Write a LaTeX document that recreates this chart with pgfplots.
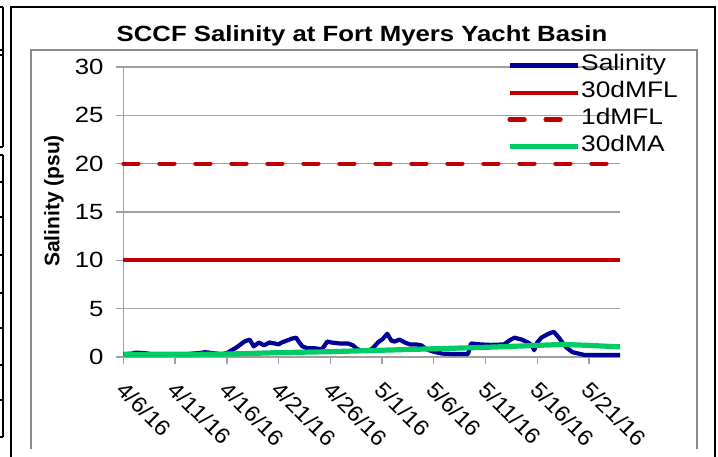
\documentclass[border=0pt]{standalone}
\usepackage{pgfplots}
\pgfplotsset{compat=1.18}
\usepackage{fontspec}
\setmainfont{Liberation Sans}[FakeStretch=1.17]
\newfontfamily\plainfont{Liberation Sans}
\newfontfamily\tickfont{Liberation Sans}[FakeStretch=1.08]
\definecolor{salblue}{RGB}{0,0,153}
\definecolor{mflred}{RGB}{192,0,0}
\definecolor{magreen}{RGB}{0,204,102}
\definecolor{gridgray}{RGB}{160,160,160}
\definecolor{framegray}{RGB}{140,140,140}
\begin{document}
\begin{tikzpicture}[x=1bp,y=1bp]
\useasboundingbox (0,0) rectangle (718,457);
% table lines at far left
\draw[black,line width=1.3bp] (3,450) -- (3,310);
\draw[black,line width=1.3bp] (3,302) -- (3,20);
\foreach \yy in {450,407,402,310,302,275,240,202,164,129,92,57,20}{
  \draw[black,line width=1.3bp] (0,\yy) -- (3,\yy);}
% outer frames
\draw[black,line width=1.6bp] (11,0) -- (11,450) -- (715,450) -- (715,0);
\draw[framegray,line width=1.8bp] (31,8) -- (31,407) -- (697,407) -- (697,8);
% title
\node[font=\bfseries\fontsize{22bp}{26bp}\selectfont] at (362,421) {SCCF Salinity at Fort Myers Yacht Basin};
% y label
\node[font=\plainfont\bfseries\fontsize{21bp}{25bp}\selectfont, rotate=90] at (54,256) {Salinity (psu)};
\begin{axis}[
  at={(123.4bp,100bp)}, anchor=south west,
  scale only axis, width=496.6bp, height=290bp,
  xmin=0, xmax=48, ymin=0, ymax=30,
  axis lines*=left,
  axis line style={gridgray, line width=1.5bp},
  ymajorgrids, grid style={gridgray, line width=1.2bp},
  ytick={0,5,10,15,20,25,30},
  xtick={0,5,10,15,20,25,30,35,40,45},
  xticklabels={4/6/16,4/11/16,4/16/16,4/21/16,4/26/16,5/1/16,5/6/16,5/11/16,5/16/16,5/21/16},
  tick align=outside, major tick length=7.5bp,
  tick style={gridgray, line width=1.3bp},
  yticklabel style={font=\fontsize{22bp}{26bp}\selectfont, anchor=east, xshift=-9bp},
  xticklabel style={font=\tickfont\fontsize{22bp}{26bp}\selectfont, rotate=-45, anchor=north west, xshift=9.7bp, yshift=-5.3bp},
  /pgf/number format/assume math mode=true,
  clip=false,
  legend style={at={(0.766,1.048)}, anchor=north west, draw=none, fill=none,
    font=\fontsize{22.5bp}{26bp}\selectfont, row sep=6.5bp, column sep=0bp,
    nodes={inner sep=1bp, text height=14.5bp, text depth=4bp}},
  legend cell align=left,
  legend image code/.code={\draw[#1] (0bp,0bp) -- (68bp,0bp);},
]
\addplot[salblue, line width=4.2bp, line join=round] coordinates {
(0.0,0.3) (0.8,0.35) (1.2,0.45) (2.0,0.4) (2.8,0.3) (4.5,0.3) (6.0,0.3) (7.3,0.4) (7.9,0.5) (8.6,0.4) (9.5,0.3) (10.0,0.4)
(10.3,0.6) (10.8,0.9) (11.2,1.2) (11.7,1.6) (12.2,1.8) (12.6,1.1) (13.1,1.5) (13.6,1.2) (14.1,1.5) (14.6,1.4) (15.0,1.3)
(15.3,1.5) (15.8,1.7) (16.3,1.9) (16.7,2.0) (17.0,1.5) (17.3,1.1) (17.8,0.9) (18.5,0.9) (19.2,0.8) (19.7,1.6) (20.1,1.5)
(20.9,1.4) (21.7,1.4) (22.2,1.2) (22.6,0.8) (23.0,0.7) (23.6,0.6) (24.1,0.9) (24.6,1.5) (25.1,1.9) (25.5,2.4) (25.9,1.7)
(26.2,1.6) (26.7,1.8) (27.2,1.5) (27.7,1.3) (28.3,1.3) (28.8,1.2) (29.3,0.8) (29.8,0.6) (30.8,0.35) (32.3,0.3) (33.3,0.3)
(33.6,1.4) (34.5,1.3) (35.5,1.25) (36.8,1.3) (37.3,1.7) (37.8,2.0) (38.5,1.8) (39.1,1.5) (39.5,1.2) (39.7,0.7) (40.0,1.5)
(40.4,2.0) (40.9,2.3) (41.3,2.5) (41.6,2.6) (42.1,2.0) (42.5,1.4) (42.8,1.0) (43.4,0.5) (44.6,0.2) (46.0,0.2) (48.0,0.2)
};
\addlegendentry{Salinity}
\addplot[mflred, line width=4bp] coordinates {(0,10) (48,10)};
\addlegendentry{30dMFL}
\addplot[mflred, line width=4.2bp, line cap=round, dash pattern=on 15bp off 21bp] coordinates {(0,20) (48,20)};
\addlegendentry{1dMFL}
\addplot[magreen, line width=5.2bp] coordinates {
(0,0.25) (5,0.25) (10,0.3) (15,0.45) (20,0.55) (25,0.7) (30,0.85) (35,1.0) (40,1.2) (42.5,1.3) (45,1.2) (48,1.05)
};
\addlegendentry{30dMA}
\end{axis}
\end{tikzpicture}
\end{document}
